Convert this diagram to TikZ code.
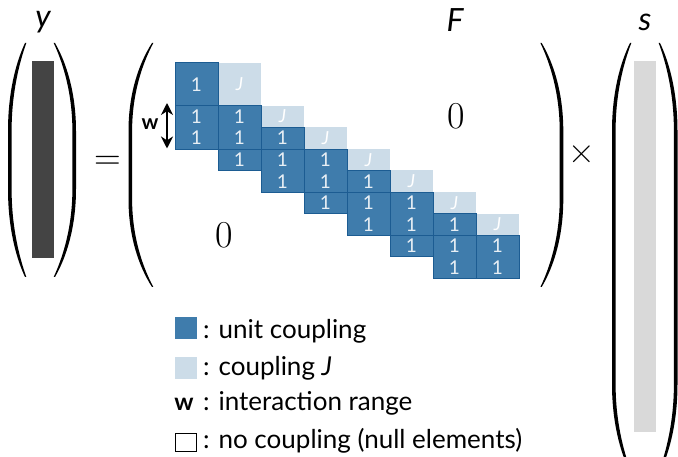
\documentclass[tikz,border=0pt]{standalone}
\usepackage{fontspec}
\setmainfont{Lato}
\newfontfamily\lmr{Latin Modern Roman}
\usetikzlibrary{arrows.meta}
\definecolor{dk}{HTML}{3F7CAC}
\definecolor{lt}{HTML}{CCDCE8}
\definecolor{ln}{HTML}{1C5C92}
\definecolor{yb}{HTML}{444444}
\definecolor{sb}{HTML}{D9D9D9}
\definecolor{cellfg}{HTML}{E8EFF5}
% dark block: column, first row, end row
\newcommand{\dkb}[3]{%
  \fill[dk] ({175+43*#1},{62.7+21.56*#2}) rectangle ({218+43*#1},{62.7+21.56*#3});
  \draw[ln,line width=0.7pt] ({175+43*#1},{62.7+21.56*#2}) rectangle ({218+43*#1},{62.7+21.56*#3});}
% light block with J label
\newcommand{\ltb}[3]{%
  \fill[lt] ({175+43*#1},{62.7+21.56*#2}) rectangle ({218+43*#1},{62.7+21.56*#3});
  \node[jlab] (J-#1-#2) at ({196.5+43*#1},{62.7+21.56*(#2+#3)/2}) {\itshape J};}
% unit label in half row
\newcommand{\onel}[2]{\node[onelab] (one-#1-#2) at ({196.5+43*#1},{62.7+21.56*(#2+0.5)}) {1};}
% parenthesis: xend, xext, ytop, ybot, sign
\newcommand{\bigparen}[5]{%
  \fill ({#1},{#3}) .. controls ({#1-0.55*(#1-#2)},{#3+20}) and ({#2},{#3+50}) .. ({#2},{#3+88})
   -- ({#2},{#4-88}) .. controls ({#2},{#4-50}) and ({#1-0.55*(#1-#2)},{#4-20}) .. ({#1},{#4})
   -- ({#1+1.3*#5},{#4}) .. controls ({#1-0.55*(#1-#2)+3.6*#5},{#4-20}) and ({#2+3.6*#5},{#4-50}) .. ({#2+3.6*#5},{#4-88})
   -- ({#2+3.6*#5},{#3+88}) .. controls ({#2+3.6*#5},{#3+50}) and ({#1-0.55*(#1-#2)+3.6*#5},{#3+20}) .. ({#1+1.3*#5},{#3}) -- cycle;}
\begin{document}
\begin{tikzpicture}[x=1pt,y=-1pt,
  onelab/.style={text=cellfg,font=\fontsize{19}{19}\selectfont,inner sep=0pt},
  jlab/.style={text=white,font=\fontsize{18}{18}\selectfont,inner sep=0pt},
  biglab/.style={font=\fontsize{32}{32}\selectfont\itshape,inner sep=0pt},
  zerolab/.style={font=\fontsize{38}{38}\lmr,inner sep=0pt},
  legtext/.style={font=\fontsize{26}{26}\selectfont,inner sep=0pt,anchor=base west},
  sym/.style={font=\fontsize{37}{37}\lmr,inner sep=0pt},
  wlabel/.style={font=\fontsize{21}{21}\selectfont\bfseries,inner sep=0pt}]
\useasboundingbox (0,0) rectangle (678,457);
\fill[white] (0,0) rectangle (678,457);

% y vector
\fill[yb] (31.7,61) rectangle (54,257.7);
\bigparen{25}{8}{43}{277}{1}
\bigparen{55}{76}{43}{277}{-1}
\node[biglab] (ylab) at (43,22) {y};

\node[sym] (eq) at (107.5,162.5) {=};

% F matrix
\bigparen{152}{128.5}{43}{287}{1}
\bigparen{541.7}{563.3}{43}{287}{-1}
\node[biglab] (Flab) at (455,20) {F};

% light cells
\ltb{1}{0}{2}
\ltb{2}{2}{3}
\ltb{3}{3}{4}
\ltb{4}{4}{5}
\ltb{5}{5}{6}
\ltb{6}{6}{7}
\ltb{7}{7}{8}
% dark cells
\dkb{0}{0}{2}\dkb{0}{2}{4}
\dkb{1}{2}{4}\dkb{1}{4}{5}
\dkb{2}{3}{4}\dkb{2}{4}{6}
\dkb{3}{4}{6}\dkb{3}{6}{7}
\dkb{4}{5}{6}\dkb{4}{6}{8}
\dkb{5}{6}{8}\dkb{5}{8}{9}
\dkb{6}{7}{8}\dkb{6}{8}{10}
\dkb{7}{8}{10}
% unit labels
\node[onelab] (one-0-0) at (196.5,{62.7+21.56}) {1};
\onel{0}{2}\onel{0}{3}
\onel{1}{2}\onel{1}{3}\onel{1}{4}
\onel{2}{3}\onel{2}{4}\onel{2}{5}
\onel{3}{4}\onel{3}{5}\onel{3}{6}
\onel{4}{5}\onel{4}{6}\onel{4}{7}
\onel{5}{6}\onel{5}{7}\onel{5}{8}
\onel{6}{7}\onel{6}{8}\onel{6}{9}
\onel{7}{8}\onel{7}{9}

\node[zerolab] (zup) at (456,116) {0};
\node[zerolab] (zlo) at (224.5,235) {0};

% interaction range
\coordinate (wtop) at (167,103);
\coordinate (wbot) at (167,148.5);
\draw[line width=2.4pt,{Stealth[length=12pt,width=12pt]}-{Stealth[length=12pt,width=12pt]}] (wtop) -- (wbot);
\node[wlabel] (wlab) at (150,124) {w};

\node[sym] (times) at (582,155) {×};

% s vector
\fill[sb] (634.3,61) rectangle (656,431.7);
\bigparen{630}{612}{43}{472}{1}
\bigparen{660}{677.5}{43}{472}{-1}
\node[biglab] (slab) at (645,22) {s};

% legend
\fill[dk] (175,317) rectangle (197,339);
\node[legtext] (l1) at (203,338.3) {: unit coupling};
\fill[lt] (175,357) rectangle (197,379);
\node[legtext] (l2) at (203,375) {: coupling \textit{J}};
\node[wlabel,font=\fontsize{24}{24}\selectfont\bfseries,anchor=base] (lw) at (184,410) {w};
\node[legtext] (l3) at (203,410) {: interaction range};
\draw[line width=0.6pt] (175.5,433) rectangle (196,451.5);
\node[legtext] (l4) at (203,448.3) {: no coupling (null elements)};
\end{tikzpicture}
\end{document}
